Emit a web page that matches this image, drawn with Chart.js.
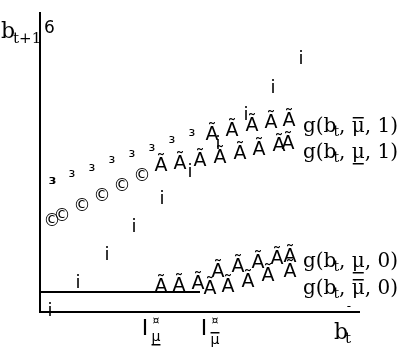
<!DOCTYPE html>
<html>
<head>
<meta charset="utf-8">
<script src="https://cdn.jsdelivr.net/npm/chart.js@4"></script>
<style>
  html, body { margin: 0; padding: 0; background: #fff; }
  canvas { display: block; }
</style>
</head>
<body>
<canvas id="chart" width="402" height="348"></canvas>
<script>
// marker positions (x: b_t, y: b_t+1)
const daggerX   = [10, 38, 67, 94, 122, 150, 178, 206, 233, 261];
const daggerY   = [3, 31, 59, 87, 115, 142, 170, 199, 226, 255];
const cubeX     = [12, 13, 32, 52, 72, 92, 112, 132, 152];
const cubeY     = [132, 132, 139, 145, 153, 159, 165, 173, 180];
const copyX     = [12, 22, 42, 62, 82, 102];
const copyY     = [93, 98, 108, 118, 128, 138];
const hiOneX    = [172, 192, 212, 231, 249];
const hiOneY    = [181, 185, 190, 193, 195];
const loOneX    = [121, 140, 160, 180, 200, 219, 239, 248];
const loOneY    = [150, 152, 155, 158, 162, 166, 170, 172];
const loZeroX   = [178, 198, 218, 237, 250];
const loZeroY   = [44, 49, 53, 57, 59];
const hiZeroX   = [121, 139, 158, 170, 188, 208, 228, 250];
const hiZeroY   = [29, 30, 32, 27, 29, 34, 40, 44];
const floorX    = [0, 160];
const floorY    = [20, 20];
const tickVals  = [105, 164];
const tickBars  = ['under', 'over'];
const labelVals = ['1', '1', '0', '0'];
const labelBars = ['over', 'under', 'under', 'over'];
const labelY    = [180, 154, 45, 18];
const labelX    = 263;

const sans  = '"DejaVu Sans"';
const serif = '"DejaVu Serif"';

function pts(xs, ys) {
    return xs.map((x, i) => ({x: x, y: ys[i]}));
}

// a text glyph painted on a small canvas, used as point style
function glyph(ch, size, weight) {
    const font = (weight || 'normal') + ' ' + size + 'px ' + sans;
    const c = document.createElement('canvas');
    let g = c.getContext('2d');
    g.font = font;
    const m = g.measureText(ch);
    // even sizes so the image lands on whole pixels
    c.width = 2 * Math.ceil(m.width / 2 + 2);
    c.height = 2 * Math.ceil(size * 0.75);
    g = c.getContext('2d');
    g.font = font;
    g.fillStyle = '#000';
    g.textAlign = 'center';
    g.textBaseline = 'alphabetic';
    const asc = m.actualBoundingBoxAscent, desc = m.actualBoundingBoxDescent;
    g.fillText(ch, c.width / 2, Math.round(c.height / 2 + (asc - desc) / 2));
    return c;
}

function marks(xs, ys, style) {
    return {
        data: pts(xs, ys),
        showLine: false,
        pointStyle: style,
        pointRadius: 6,
        clip: false
    };
}

// draw a row of text runs, with an optional bar over/under a run
function runs(ctx, x, y, list) {
    ctx.textAlign = 'left';
    ctx.textBaseline = 'alphabetic';
    list.forEach(r => {
        ctx.font = r.font;
        x += r.dx || 0;
        const w = ctx.measureText(r.t).width;
        ctx.fillText(r.t, x, y + (r.dy || 0));
        if (r.bar) {
            const by = y + (r.dy || 0) + (r.bar === 'over' ? -(r.barUp || 15) : (r.barDown || 4));
            ctx.fillRect(x + 1, by, w - 2, 1.5);
        }
        x += w;
    });
}

const decor = {
    id: 'decor',
    beforeDatasetsDraw(chart) {
        const ctx = chart.ctx, a = chart.chartArea;
        ctx.save();
        ctx.strokeStyle = '#000';
        ctx.lineWidth = 2;
        ctx.beginPath();
        ctx.moveTo(a.left, a.top);
        ctx.lineTo(a.left, a.bottom);
        ctx.lineTo(a.right + 2, a.bottom);
        ctx.stroke();
        ctx.restore();
    },
    afterDatasetsDraw(chart) {
        const ctx = chart.ctx, a = chart.chartArea;
        const xs = chart.scales.x, ys = chart.scales.y;
        ctx.save();
        ctx.fillStyle = '#000';

        // y axis title and top tick
        runs(ctx, 1, a.top + 26, [
            {t: 'b', font: '22px ' + serif},
            {t: 't+1', font: '15px ' + serif, dx: -2, dy: 5}
        ]);
        ctx.font = '17px ' + sans;
        ctx.fillText('6', a.left + 4, a.top + 21);

        // x axis title
        runs(ctx, 334, a.bottom + 27, [
            {t: 'b', font: '22px ' + serif},
            {t: 't', font: '15px ' + serif, dx: -3, dy: 4}
        ]);
        ctx.font = '12px ' + sans;
        ctx.textAlign = 'center';
        ctx.fillText('-', a.right - 9, a.bottom - 2);

        // x ticks
        tickVals.forEach((v, i) => {
            const px = xs.getPixelForValue(v);
            ctx.font = '22px ' + sans;
            ctx.textAlign = 'center';
            ctx.fillText('I', px, a.bottom + 23);
            ctx.font = '11px ' + sans;
            ctx.fillText('¤', px + 11, a.bottom + 12);
            ctx.font = '14px ' + sans;
            const mw = ctx.measureText('μ').width;
            const my = a.bottom + (i === 0 ? 29 : 32);
            ctx.fillText('μ', px + 11, my);
            if (tickBars[i] === 'under') {
                ctx.fillRect(px + 11 - mw / 2, my + 3, mw, 1.5);
            } else {
                ctx.fillRect(px + 11 - mw / 2, my - 12, mw, 1.5);
            }
        });

        // series labels
        labelVals.forEach((v, i) => {
            runs(ctx, xs.getPixelForValue(labelX), ys.getPixelForValue(labelY[i]), [
                {t: 'g(b', font: '20px ' + serif},
                {t: 't', font: '14px ' + serif, dx: -3, dy: 4},
                {t: ', ', font: '20px ' + serif},
                {t: 'μ', font: '20px ' + serif, bar: labelBars[i], barUp: 15, barDown: 5},
                {t: ', ' + v + ')', font: '20px ' + serif}
            ]);
        });
        ctx.restore();
    }
};

const ctx = document.getElementById('chart').getContext('2d');
new Chart(ctx, {
    type: 'scatter',
    plugins: [decor],
    data: {
        datasets: [
            {
                data: pts(floorX, floorY),
                showLine: true,
                borderColor: '#000',
                borderWidth: 2,
                pointRadius: 0,
                clip: false
            },
            marks(daggerX, daggerY, glyph('i', 18)),
            marks(cubeX, cubeY, glyph('³', 17)),
            marks(copyX, copyY, glyph('©', 17)),
            marks(hiOneX, hiOneY, glyph('Ã', 19)),
            marks(loOneX, loOneY, glyph('Ã', 19)),
            marks(loZeroX, loZeroY, glyph('Ã', 19)),
            marks(hiZeroX, hiZeroY, glyph('Ã', 19))
        ]
    },
    options: {
        responsive: false,
        animation: false,
        layout: {
            padding: {left: 40, right: 44, top: 12, bottom: 36}
        },
        plugins: {
            legend: {display: false},
            tooltip: {enabled: false}
        },
        scales: {
            x: {type: 'linear', display: false, min: 0, max: 318},
            y: {type: 'linear', display: false, min: 0, max: 300}
        }
    }
});
</script>
</body>
</html>
